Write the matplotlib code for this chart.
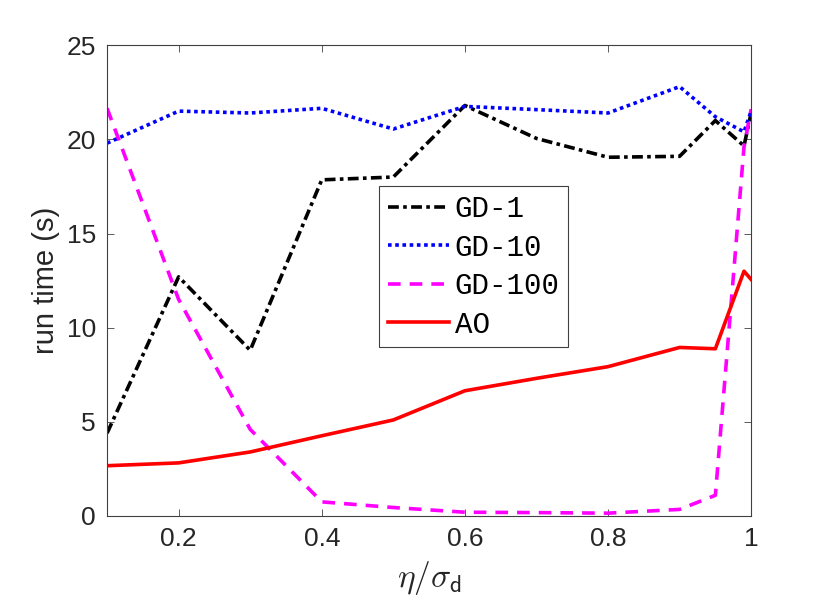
import matplotlib; matplotlib.use("Agg")
import matplotlib.pyplot as plt

plt.rcParams['font.family'] = ['Liberation Sans', 'DejaVu Sans']
plt.rcParams['mathtext.fontset'] = 'cm'

# eta / sigma_d values and run times (s)
x = [0.1, 0.2, 0.3, 0.4, 0.5, 0.6, 0.7, 0.8, 0.9, 0.95, 0.99, 1.0]
gd1 = [4.4, 12.7, 8.8, 17.85, 18.0, 21.8, 20.05, 19.05, 19.1, 21.0, 19.65, 21.4]
gd10 = [19.8, 21.5, 21.4, 21.65, 20.55, 21.75, 21.58, 21.4, 22.8, 21.2, 20.4, 21.5]
gd100 = [21.65, 11.5, 4.6, 0.75, 0.45, 0.2, 0.18, 0.15, 0.35, 1.1, 19.6, 21.6]
ao = [2.67, 2.82, 3.4, 4.26, 5.1, 6.65, 7.31, 7.93, 8.95, 8.88, 13.0, 12.56]
labels = ["GD-1", "GD-10", "GD-100", "AO"]
xticks = [0.2, 0.4, 0.6, 0.8, 1.0]
xticklabels = ["0.2", "0.4", "0.6", "0.8", "1"]
yticks = [0, 5, 10, 15, 20, 25]

fig = plt.figure(figsize=(8.3, 6.11), dpi=100)
ax = fig.add_axes([0.129, 0.1555, 0.776, 0.7705])

lw = 2.6
ax.plot(x, gd1, color='k', lw=lw, ls=(0, (3, 1.2, 1, 1.2)), label=labels[0])
ax.plot(x, gd10, color='#0000ff', lw=lw, ls=(0, (1, 1)), label=labels[1])
ax.plot(x, gd100, color='#ff00ff', lw=lw, ls=(0, (3.5, 2.5)), label=labels[2])
ax.plot(x, ao, color='#ff0000', lw=lw, ls='-', label=labels[3])

ax.set_xlim(0.1, 1.0); ax.set_ylim(0, 25)
ax.set_xticks(xticks); ax.set_xticklabels(xticklabels)
ax.set_yticks(yticks)
ax.tick_params(direction='in', length=5, width=0.6, color='#404040',
               top=True, right=True, labelsize=19, labelcolor='#262626', pad=8)
for s in ax.spines.values():
    s.set_color('#404040'); s.set_linewidth(0.8)

ax.set_ylabel("run time (s)", fontsize=21, color='#262626', labelpad=5)
ax.set_xlabel(r"$\eta/\sigma_{\mathsf{d}}$", fontsize=24, color='#262626', labelpad=6)

leg = ax.legend(loc='upper left', bbox_to_anchor=(0.422, 0.70), borderaxespad=0,
                prop={'family': 'Liberation Mono', 'size': 21}, fancybox=False,
                edgecolor='#404040', framealpha=1, handlelength=2.1,
                handletextpad=0.2, labelspacing=0.36, borderpad=0.3)
leg.get_frame().set_linewidth(0.8)

fig.savefig("out.png", dpi=100)
